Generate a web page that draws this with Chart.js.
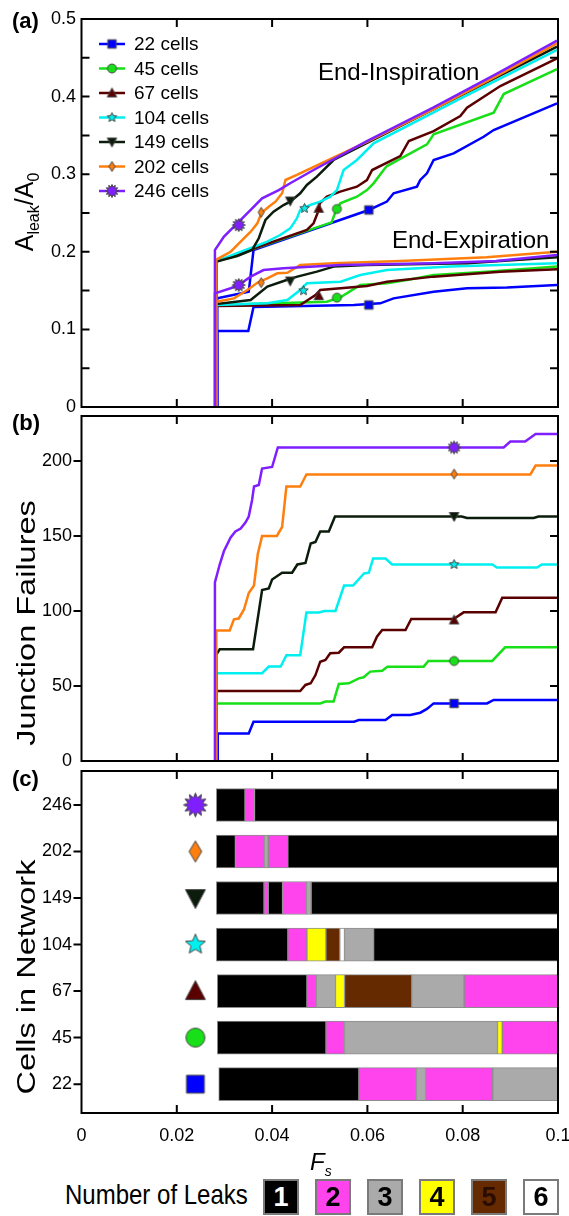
<!DOCTYPE html>
<html>
<head>
<meta charset="utf-8">
<script src="https://cdn.jsdelivr.net/npm/chart.js@4.4.0/dist/chart.umd.min.js"></script>
<style>
  body { margin: 0; background: #fff; font-family: "Liberation Sans", Arial, sans-serif; }
  #wrap { position: relative; width: 569px; height: 1216px; overflow: hidden; }
  canvas { position: absolute; left: 0; }
  .t { position: absolute; line-height: 1; white-space: nowrap; color: #000; }
  .lbl { font-weight: bold; font-size: 22px; left: 12px; }
  .rot { transform: translate(-50%, -50%) rotate(-90deg); font-size: 25px; }
  .rot.long { transform: translate(-50%, -50%) rotate(-90deg) scaleX(1.3); }
  .box { position: absolute; top: 1179px; width: 32px; height: 32px; border: 2px solid #7a7a7a;
         font: bold 27px "Liberation Sans", Arial, sans-serif; text-align: center; line-height: 33px; }
</style>
</head>
<body>
<div id="wrap">
  <canvas id="ca" width="569" height="420" style="top:0px"></canvas>
  <canvas id="cb" width="569" height="365" style="top:405px"></canvas>
  <canvas id="cc" width="569" height="400" style="top:760px"></canvas>

  <div class="t lbl" style="top:10px">(a)</div>
  <div class="t lbl" style="top:412px">(b)</div>
  <div class="t lbl" style="top:768px">(c)</div>

  <div class="t" style="left:318px;top:60px;font-size:24px">End-Inspiration</div>
  <div class="t" style="left:392px;top:228px;font-size:24px">End-Expiration</div>

  <div class="t rot" style="left:27px;top:212px">A<sub style="font-size:16px">leak</sub>/A<sub style="font-size:16px">0</sub></div>
  <div class="t rot long" style="left:26px;top:623px">Junction Failures</div>
  <div class="t rot long" style="left:26px;top:977px">Cells in Network</div>

  <div class="t" style="left:310px;top:1150px;font-size:24px;font-style:italic">F<sub style="font-size:14px">s</sub></div>

  <div class="t" style="left:65px;top:1183px;font-size:24px;transform:scaleY(1.12);transform-origin:left center">Number of Leaks</div>
  <div class="box" style="left:263px;background:#000;color:#fff">1</div>
  <div class="box" style="left:315px;background:#ff44ee;color:#000">2</div>
  <div class="box" style="left:367px;background:#aaaaaa;color:#000">3</div>
  <div class="box" style="left:419px;background:#ffff00;color:#000">4</div>
  <div class="box" style="left:471px;background:#662a00;color:#2a0c00">5</div>
  <div class="box" style="left:523px;background:#fff;color:#000">6</div>
</div>

<script>
// ---- data ----
const cells = ['22', '45', '67', '104', '149', '202', '246'];

// (a) leak area, end-inspiration  [Fs, Aleak/A0]
const insp22 = [[0.0285,0],[0.0285,0.140],[0.0351,0.1486],[0.0361,0.2023],[0.0603,0.2539],[0.0641,0.2647],[0.0655,0.2754],[0.0704,0.2840],[0.0711,0.2926],[0.0725,0.3011],[0.0739,0.3183],[0.0781,0.3269],[0.0844,0.3483],[0.0865,0.3569],[0.0998,0.3913]];
const insp45 = [[0.0283,0],[0.0283,0.1873],[0.0525,0.2380],[0.0532,0.2500],[0.0543,0.2625],[0.0578,0.2710],[0.0599,0.2796],[0.0613,0.2882],[0.0634,0.3054],[0.0641,0.3105],[0.0725,0.3384],[0.0739,0.3513],[0.0865,0.3793],[0.0886,0.4033],[0.0998,0.4355]];
const insp67 = [[0.0283,0],[0.0283,0.1873],[0.0473,0.2281],[0.0487,0.2367],[0.0498,0.2539],[0.0500,0.2625],[0.0515,0.2710],[0.0543,0.2775],[0.0578,0.2839],[0.0599,0.2925],[0.0610,0.3054],[0.0669,0.3234],[0.0687,0.3428],[0.0739,0.3556],[0.0795,0.3750],[0.0809,0.3857],[0.0879,0.4136],[0.0998,0.4492]];
const insp104 = [[0.0283,0],[0.0283,0.1880],[0.0390,0.2130],[0.0417,0.2216],[0.0438,0.2302],[0.0452,0.2431],[0.0459,0.2539],[0.0480,0.2603],[0.0501,0.2646],[0.0522,0.2710],[0.0536,0.2796],[0.0550,0.3054],[0.0578,0.3183],[0.0613,0.3398],[0.0800,0.3990],[0.0998,0.4601]];
const insp149 = [[0.0283,0],[0.0283,0.1873],[0.0327,0.1946],[0.0358,0.2023],[0.0372,0.2174],[0.0386,0.2410],[0.0403,0.2517],[0.0424,0.2603],[0.0438,0.2646],[0.0459,0.2754],[0.0473,0.2861],[0.0494,0.2968],[0.0529,0.3183],[0.0650,0.3560],[0.0800,0.4030],[0.0998,0.4644]];
const insp202 = [[0.0283,0],[0.0283,0.1900],[0.0313,0.2001],[0.0334,0.2130],[0.0355,0.2259],[0.0369,0.2367],[0.0378,0.2504],[0.0393,0.2581],[0.0407,0.2646],[0.0421,0.2754],[0.0428,0.2925],[0.0452,0.2990],[0.0473,0.3054],[0.0600,0.3420],[0.0739,0.3840],[0.0870,0.4260],[0.0998,0.4686]];
const insp246 = [[0.0280,0],[0.0280,0.2023],[0.0299,0.2195],[0.0320,0.2323],[0.0355,0.2539],[0.0379,0.2689],[0.0414,0.2796],[0.0438,0.2883],[0.0487,0.3054],[0.0600,0.3430],[0.0739,0.3860],[0.0870,0.4290],[0.0998,0.4721]];

// (a) leak area, end-expiration
const exp22 = [[0.0285,0],[0.0285,0.0980],[0.0350,0.0980],[0.0361,0.1290],[0.0572,0.1315],[0.0627,0.1336],[0.0655,0.1400],[0.0739,0.1486],[0.0809,0.1529],[0.0893,0.1541],[0.0998,0.1572]];
const exp45 = [[0.0283,0],[0.0283,0.1315],[0.0515,0.1356],[0.0545,0.1420],[0.0585,0.1572],[0.0641,0.1594],[0.0683,0.1637],[0.0739,0.1701],[0.0851,0.1744],[0.0998,0.1809]];
const exp67 = [[0.0283,0],[0.0283,0.1302],[0.0459,0.1315],[0.0491,0.1443],[0.0501,0.1508],[0.0599,0.1560],[0.0641,0.1615],[0.0739,0.1680],[0.0879,0.1744],[0.0998,0.1774]];
const exp104 = [[0.0283,0],[0.0283,0.1315],[0.0390,0.1336],[0.0432,0.1379],[0.0459,0.1508],[0.0473,0.1594],[0.0544,0.1615],[0.0585,0.1701],[0.0641,0.1766],[0.0774,0.1809],[0.0998,0.1852]];
const exp149 = [[0.0283,0],[0.0283,0.1326],[0.0355,0.1379],[0.0390,0.1551],[0.0432,0.1640],[0.0453,0.1680],[0.0494,0.1744],[0.0529,0.1809],[0.0599,0.1830],[0.0809,0.1852],[0.0998,0.1929]];
const exp202 = [[0.0283,0],[0.0283,0.1356],[0.0320,0.1400],[0.0348,0.1508],[0.0369,0.1600],[0.0390,0.1658],[0.0411,0.1723],[0.0432,0.1730],[0.0459,0.1830],[0.0529,0.1852],[0.0669,0.1882],[0.0850,0.1930],[0.0998,0.2002]];
const exp246 = [[0.0280,0],[0.0280,0.1465],[0.0313,0.1530],[0.0330,0.1572],[0.0355,0.1680],[0.0382,0.1765],[0.0424,0.1787],[0.0480,0.1808],[0.0544,0.1830],[0.0739,0.1852],[0.0870,0.1880],[0.0998,0.1959]];

// (a) marker points
const markInsp = [[0.0603,0.2539],[0.0536,0.2552],[0.0498,0.2560],[0.0468,0.2560],[0.0438,0.2655],[0.0377,0.2509],[0.0330,0.2345]];
const markExp = [[0.0603,0.1315],[0.0536,0.1409],[0.0498,0.1435],[0.0466,0.1499],[0.0438,0.1624],[0.0377,0.1602],[0.0330,0.1572]];

// (b) junction failures
const jf22 = [[0.0286,0],[0.0286,18.4],[0.0351,18.4],[0.0361,26.2],[0.0572,26.2],[0.0582,27.3],[0.0638,27.3],[0.0652,30.7],[0.0690,30.7],[0.0711,32.2],[0.0725,34.7],[0.0739,38.4],[0.0851,38.4],[0.0865,40.7],[0.1,40.7]];
const jf45 = [[0.0283,0],[0.0283,38.4],[0.0501,38.4],[0.0512,39.6],[0.0529,39.6],[0.0540,51.3],[0.0561,51.8],[0.0582,55.1],[0.0592,55.8],[0.0606,59.6],[0.0631,60.2],[0.0642,62.9],[0.0718,62.9],[0.0728,66.7],[0.0862,66.7],[0.0889,75.8],[0.1,75.8]];
const jf67 = [[0.0283,0],[0.0283,46.7],[0.0459,46.7],[0.0470,50.7],[0.0481,51.8],[0.0491,57.3],[0.0501,66.2],[0.0512,67.3],[0.0522,71.8],[0.0540,72.2],[0.0551,75.8],[0.0610,75.8],[0.0620,82.9],[0.0631,87.3],[0.0680,87.3],[0.0692,94.7],[0.0781,94.7],[0.0802,99.1],[0.0869,99.1],[0.0883,108.9],[0.1,108.9]];
const jf104 = [[0.0283,0],[0.0283,58.5],[0.0379,58.5],[0.0393,63],[0.0418,63],[0.0430,70.5],[0.0459,70.5],[0.0472,99],[0.0498,99],[0.0510,100],[0.0533,100],[0.0551,117],[0.0570,117],[0.0593,125],[0.0603,125.5],[0.0612,135],[0.0638,135],[0.0652,131],[0.0862,131],[0.0872,129],[0.0956,129],[0.0966,131],[0.1,131]];
const jf149 = [[0.0283,0],[0.0283,71],[0.0290,74.5],[0.0360,74.5],[0.0379,114],[0.0393,115],[0.0400,121],[0.0421,125.5],[0.0442,125.5],[0.0453,131],[0.0470,132],[0.0481,145],[0.0491,146],[0.0501,153],[0.0519,153],[0.0532,163],[0.0798,163],[0.0809,162],[0.0949,162],[0.0959,163],[0.1,163]];
const jf202 = [[0.0283,0],[0.0283,87],[0.0311,87],[0.0320,94.5],[0.0330,95],[0.0341,101],[0.0351,112],[0.0362,117],[0.0370,138],[0.0379,150],[0.0410,150],[0.0421,156],[0.0430,183],[0.0459,183],[0.0472,191],[0.0942,191],[0.0953,197],[0.1,197]];
const jf246 = [[0.0280,0],[0.0280,119],[0.0285,125],[0.0290,131],[0.0299,140],[0.0313,149],[0.0323,153],[0.0334,155],[0.0344,159],[0.0351,163],[0.0358,174],[0.0362,183],[0.0372,184],[0.0379,195],[0.0400,196],[0.0412,209],[0.0886,209],[0.0900,213],[0.0931,213],[0.0953,218],[0.1,218]];
const markJfX = 0.0782;
const markJf = [38.4, 66.7, 94, 131, 163, 191.3, 209];

// (c) leak-count segments: boundaries in Fs and number of leaks per segment
const bounds22 = [0.0288, 0.0582, 0.0703, 0.0722, 0.0863, 0.1];
const leaks22 = [1, 2, 3, 2, 3];
const bounds45 = [0.0285, 0.0513, 0.0552, 0.0873, 0.0883, 0.1];
const leaks45 = [1, 2, 3, 4, 2];
const bounds67 = [0.0285, 0.0473, 0.0493, 0.0533, 0.0552, 0.0693, 0.0803, 0.1];
const leaks67 = [1, 2, 3, 4, 5, 3, 2];
const bounds104 = [0.0283, 0.0433, 0.0473, 0.0513, 0.0542, 0.0552, 0.0613, 0.1];
const leaks104 = [1, 2, 4, 5, 6, 3, 1];
const bounds149 = [0.0283, 0.0383, 0.0392, 0.0422, 0.0472, 0.0482, 0.1];
const leaks149 = [1, 2, 1, 2, 3, 1];
const bounds202 = [0.0283, 0.0323, 0.0383, 0.0392, 0.0433, 0.1];
const leaks202 = [1, 2, 3, 2, 1];
const bounds246 = [0.0283, 0.0343, 0.0363, 0.1];
const leaks246 = [1, 2, 1];
const iconX = 0.0239;

// ---- styles ----
const colors = ['#0000ff', '#18e018', '#5a0000', '#00f0f0', '#0c1c0c', '#ff7f0e', '#7f1fff'];
const shapes = ['square', 'circle', 'tri', 'star', 'tridown', 'diamond', 'burst'];
const leakColors = ['#000000', '#ff44ee', '#aaaaaa', '#ffff00', '#662a00', '#ffffff'];

Chart.defaults.font.family = '"Liberation Sans", Arial, sans-serif';
Chart.defaults.color = '#000';

function mk(shape, fill, s) {
  const c = document.createElement('canvas');
  c.width = c.height = Math.ceil(s + 3);
  const g = c.getContext('2d');
  const r = s / 2;
  g.translate(c.width / 2, c.height / 2);
  g.beginPath();
  if (shape === 'square') g.rect(-r * 0.85, -r * 0.85, r * 1.7, r * 1.7);
  else if (shape === 'circle') g.arc(0, 0, r * 0.9, 0, Math.PI * 2);
  else if (shape === 'tri') { g.moveTo(0, -r); g.lineTo(r * 0.95, r * 0.8); g.lineTo(-r * 0.95, r * 0.8); }
  else if (shape === 'tridown') { g.moveTo(-r * 0.95, -r * 0.8); g.lineTo(r * 0.95, -r * 0.8); g.lineTo(0, r); }
  else if (shape === 'diamond') { g.moveTo(0, -r); g.lineTo(r * 0.6, 0); g.lineTo(0, r); g.lineTo(-r * 0.6, 0); }
  else {
    const n = shape === 'star' ? 5 : 12, inner = shape === 'star' ? 0.45 : 0.62;
    for (let i = 0; i < n * 2; i++) {
      const rr = i % 2 ? r * inner : r, a = -Math.PI / 2 + i * Math.PI / n;
      g.lineTo(rr * Math.cos(a), rr * Math.sin(a));
    }
  }
  g.closePath();
  g.fillStyle = fill; g.fill();
  g.lineWidth = 1; g.strokeStyle = '#444'; g.stroke();
  return c;
}
const iconSmall = shapes.map((s, i) => mk(s, colors[i], s === 'burst' ? 13 : 10));
const iconBig = shapes.map((s, i) => mk(s, colors[i], s === 'burst' ? 24 : 21));

const pts = a => a.map(p => ({ x: p[0], y: p[1] }));
const lineDs = (a, i) => ({ data: pts(a), borderColor: colors[i], borderWidth: 2.5, pointRadius: 0, tension: 0, fill: false });
const markDs = (x, y, i) => ({ data: [{ x, y }], showLine: false, pointStyle: iconSmall[i], pointRadius: 5 });

const frame = {
  id: 'frame',
  afterDatasetsDraw(chart, args, o) {
    const { ctx, chartArea: a, scales: { x, y } } = chart;
    const L = 8;
    ctx.save();
    ctx.strokeStyle = '#000';
    ctx.lineWidth = 2;
    ctx.strokeRect(a.left, a.top, a.right - a.left, a.bottom - a.top);
    ctx.beginPath();
    (o.xt || []).forEach(v => {
      const p = x.getPixelForValue(v);
      ctx.moveTo(p, a.top); ctx.lineTo(p, a.top + L);
      ctx.moveTo(p, a.bottom); ctx.lineTo(p, a.bottom - L);
    });
    (o.yt || []).forEach(v => {
      const p = y.getPixelForValue(v);
      ctx.moveTo(a.left, p); ctx.lineTo(o.leftOut ? a.left - L : a.left + L, p);
      if (o.right) { ctx.moveTo(a.right, p); ctx.lineTo(a.right - L, p); }
    });
    ctx.stroke();
    ctx.restore();
  }
};

const legendA = {
  id: 'legendA',
  afterDatasetsDraw(chart) {
    const g = chart.ctx;
    g.save();
    g.font = '19px "Liberation Sans", Arial, sans-serif';
    g.textBaseline = 'middle';
    cells.forEach((c, i) => {
      const y = 44 + i * 24.5;
      g.strokeStyle = colors[i]; g.lineWidth = 2.5;
      g.beginPath(); g.moveTo(99, y); g.lineTo(125, y); g.stroke();
      const m = iconSmall[i];
      g.drawImage(m, 112 - m.width / 2, y - m.height / 2);
      g.fillStyle = '#000';
      g.fillText(c + ' cells', 134, y + 1);
    });
    g.restore();
  }
};

const noPadX = s => { s.height = 0; s.paddingLeft = 0; s.paddingRight = 0; };
const fixY = s => { s.width = 81.5; s.paddingTop = 0; s.paddingBottom = 0; };
const xHidden = {
  type: 'linear', min: 0, max: 0.1,
  ticks: { display: false }, grid: { display: false, drawTicks: false }, border: { display: false },
  afterFit: noPadX
};
const setTicks = vals => s => { s.ticks = vals.map(v => ({ value: v })); };

// ---- (a) ----
const inspAll = [insp22, insp45, insp67, insp104, insp149, insp202, insp246];
const expAll = [exp22, exp45, exp67, exp104, exp149, exp202, exp246];
const dsA = [];
for (let i = 6; i >= 0; i--) {
  dsA.push(markDs(markInsp[i][0], markInsp[i][1], i));
  dsA.push(markDs(markExp[i][0], markExp[i][1], i));
}
for (let i = 6; i >= 0; i--) {
  dsA.push(lineDs(inspAll[i], i));
  dsA.push(lineDs(expAll[i], i));
}
new Chart(document.getElementById('ca'), {
  type: 'line',
  data: { datasets: dsA },
  options: {
    responsive: false, animation: false, devicePixelRatio: 1,
    layout: { padding: { left: 0, right: 11, top: 19, bottom: 13 } },
    plugins: { legend: { display: false }, tooltip: { enabled: false },
      frame: { xt: [0.02, 0.04, 0.06, 0.08], yt: [0.05, 0.1, 0.15, 0.2, 0.25, 0.3, 0.35, 0.4, 0.45], right: true } },
    scales: {
      x: xHidden,
      y: {
        min: 0, max: 0.5,
        afterBuildTicks: setTicks([0, 0.1, 0.2, 0.3, 0.4, 0.5]),
        ticks: { font: { size: 18 }, padding: 5.5, callback: v => String(+v.toFixed(1)) },
        grid: { display: false, drawTicks: false }, border: { display: false },
        afterFit: fixY
      }
    }
  },
  plugins: [frame, legendA]
});

// ---- (b) ----
const jfAll = [jf22, jf45, jf67, jf104, jf149, jf202, jf246];
const dsB = [];
for (let i = 6; i >= 0; i--) dsB.push(markDs(markJfX, markJf[i], i));
for (let i = 6; i >= 0; i--) dsB.push(lineDs(jfAll[i], i));
new Chart(document.getElementById('cb'), {
  type: 'line',
  data: { datasets: dsB },
  options: {
    responsive: false, animation: false, devicePixelRatio: 1,
    layout: { padding: { left: 0, right: 11, top: 11, bottom: 9 } },
    plugins: { legend: { display: false }, tooltip: { enabled: false },
      frame: { xt: [0.02, 0.04, 0.06, 0.08], yt: [50, 100, 150, 200], leftOut: true, right: true } },
    scales: {
      x: xHidden,
      y: {
        min: 0, max: 230,
        afterBuildTicks: setTicks([0, 50, 100, 150, 200]),
        ticks: { font: { size: 18 }, padding: 9.5, callback: v => String(v) },
        grid: { display: false, drawTicks: false }, border: { display: false },
        afterFit: fixY
      }
    }
  },
  plugins: [frame]
});

// ---- (c) ----
const boundsAll = [bounds22, bounds45, bounds67, bounds104, bounds149, bounds202, bounds246];
const leaksAll = [leaks22, leaks45, leaks67, leaks104, leaks149, leaks202, leaks246];
const dsC = [];
cells.forEach((c, i) => {
  dsC.push({ type: 'scatter', data: [{ x: iconX, y: i }], pointStyle: iconBig[i], pointRadius: 8 });
});
boundsAll.forEach((b, i) => {
  leaksAll[i].forEach((n, k) => {
    dsC.push({
      type: 'bar', data: [{ x: [b[k], b[k + 1]], y: i }],
      backgroundColor: leakColors[n - 1], borderColor: '#8c8c8c', borderWidth: 1,
      borderSkipped: false, grouped: false, barThickness: 33
    });
  });
});
new Chart(document.getElementById('cc'), {
  type: 'bar',
  data: { datasets: dsC },
  options: {
    indexAxis: 'y',
    responsive: false, animation: false, devicePixelRatio: 1,
    layout: { padding: { left: 0, right: 11, top: 11, bottom: 7 } },
    plugins: { legend: { display: false }, tooltip: { enabled: false },
      frame: { xt: [0.02, 0.04, 0.06, 0.08], yt: [0, 1, 2, 3, 4, 5, 6], leftOut: true } },
    scales: {
      x: {
        type: 'linear', min: 0, max: 0.1, offset: false, beginAtZero: false,
        afterBuildTicks: setTicks([0, 0.02, 0.04, 0.06, 0.08, 0.1]),
        ticks: { font: { size: 18 }, padding: 12, maxRotation: 0, callback: v => String(+v.toFixed(2)) },
        grid: { display: false, drawTicks: false, offset: false }, border: { display: false },
        afterFit: s => { s.height = 40; s.paddingLeft = 0; s.paddingRight = 0; }
      },
      y: {
        type: 'linear', min: -0.62, max: 6.73, offset: false,
        afterBuildTicks: setTicks([0, 1, 2, 3, 4, 5, 6]),
        ticks: { font: { size: 18 }, padding: 9.5, callback: v => cells[v] },
        grid: { display: false, drawTicks: false, offset: false }, border: { display: false },
        afterFit: fixY
      }
    }
  },
  plugins: [frame]
});
</script>
</body>
</html>
